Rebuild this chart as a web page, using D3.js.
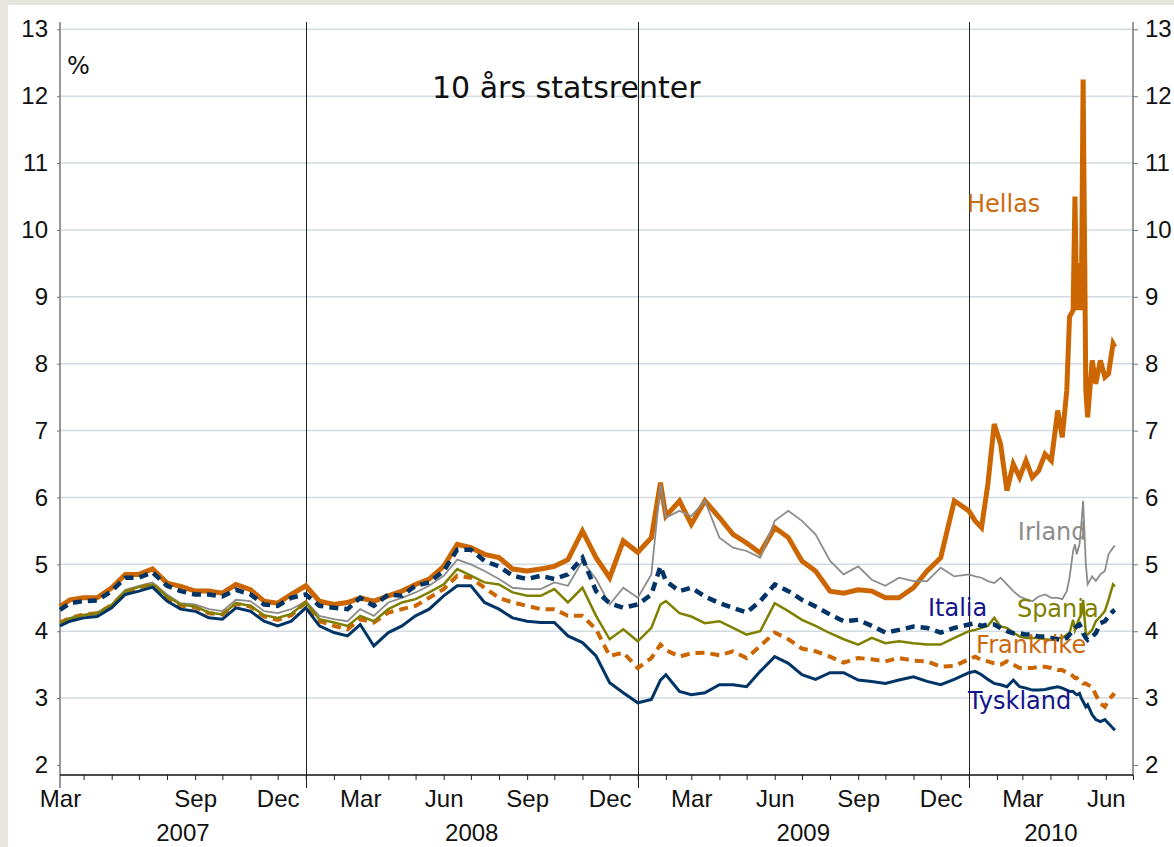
<!DOCTYPE html>
<html>
<head>
<meta charset="utf-8">
<script src="https://cdn.jsdelivr.net/npm/d3@7"></script>
<style>
  html, body { margin: 0; padding: 0; background: #e6e6df; }
  svg { display: block; }
</style>
</head>
<body>
<svg id="chart" width="1174" height="847"></svg>
<script>
// observation dates (semi-monthly to end of 2009, denser in 2010)
var dates = [
  "2007-04-05","2007-04-16","2007-05-01","2007-05-16","2007-06-01","2007-06-16","2007-07-01","2007-07-16","2007-08-01",
  "2007-08-16","2007-09-01","2007-09-16","2007-10-01","2007-10-16","2007-11-01","2007-11-16","2007-12-01","2007-12-16",
  "2008-01-01","2008-01-16","2008-02-01","2008-02-16","2008-03-01","2008-03-16","2008-04-01","2008-04-16","2008-05-01",
  "2008-05-16","2008-06-01","2008-06-16","2008-07-01","2008-07-16","2008-08-01","2008-08-16","2008-09-01","2008-09-16",
  "2008-10-01","2008-10-16","2008-11-01","2008-11-16","2008-12-01","2008-12-16",
  "2009-01-01","2009-01-16","2009-01-26","2009-02-01","2009-02-16","2009-03-01","2009-03-16","2009-04-01","2009-04-16",
  "2009-05-01","2009-05-16","2009-06-01","2009-06-16","2009-07-01","2009-07-16","2009-08-01","2009-08-16","2009-09-01",
  "2009-09-16","2009-10-01","2009-10-16","2009-11-01","2009-11-16","2009-12-01","2009-12-16",
  "2010-01-01","2010-01-08","2010-01-15","2010-01-22","2010-01-29","2010-02-05","2010-02-12","2010-02-19","2010-02-26",
  "2010-03-05","2010-03-12","2010-03-19","2010-03-26","2010-04-02","2010-04-09","2010-04-14","2010-04-19","2010-04-22",
  "2010-04-26","2010-04-28","2010-04-30","2010-05-03","2010-05-05","2010-05-07","2010-05-10","2010-05-12","2010-05-17",
  "2010-05-21","2010-05-26","2010-05-31","2010-06-04","2010-06-09","2010-06-11"
];

var hellas = [
  4.37, 4.47, 4.5, 4.5, 4.65, 4.85, 4.85, 4.93, 4.72, 4.67, 4.6, 4.6, 4.57, 4.7, 4.62, 4.45, 4.42, 4.55,
  4.68, 4.45, 4.4, 4.43, 4.5, 4.45, 4.53, 4.6, 4.7, 4.78, 4.97, 5.3, 5.25, 5.15, 5.1, 4.93, 4.9, 4.93, 4.97, 5.07, 5.5, 5.1, 4.8, 5.35,
  5.18, 5.4, 6.22, 5.72, 5.95, 5.6, 5.95, 5.7, 5.45, 5.32, 5.17, 5.55, 5.4, 5.05, 4.9, 4.6, 4.57, 4.62, 4.6, 4.5, 4.5, 4.65, 4.9, 5.1, 5.95,
  5.8, 5.65, 5.55, 6.2, 7.1, 6.8, 6.1, 6.5, 6.3, 6.55, 6.3, 6.4, 6.65, 6.55, 7.3, 6.9, 7.6, 8.7, 8.8, 10.5, 8.8, 9.5, 8.8, 12.25,
  7.6, 7.2, 8.05, 7.7, 8.05, 7.8, 7.85, 8.3, 8.25
];
var irland = [
  4.13, 4.2, 4.25, 4.28, 4.4, 4.62, 4.68, 4.73, 4.55, 4.42, 4.4, 4.33, 4.3, 4.47, 4.45, 4.3, 4.27, 4.33,
  4.45, 4.23, 4.18, 4.15, 4.33, 4.23, 4.43, 4.5, 4.58, 4.68, 4.83, 5.07, 5.0, 4.9, 4.78, 4.65, 4.63, 4.63, 4.73, 4.68, 5.05, 4.78, 4.4, 4.65,
  4.5, 4.85, 6.2, 5.7, 5.8, 5.72, 5.95, 5.4, 5.25, 5.2, 5.1, 5.65, 5.8, 5.65, 5.45, 5.05, 4.85, 4.97, 4.77, 4.68, 4.8, 4.75, 4.75, 4.95, 4.82,
  4.85, 4.82, 4.8, 4.75, 4.72, 4.8, 4.7, 4.6, 4.52, 4.48, 4.45, 4.52, 4.55, 4.5, 4.5, 4.48, 4.6, 4.8, 5.2, 5.3, 5.15, 5.3, 5.6, 5.95,
  5.0, 4.7, 4.82, 4.75, 4.85, 4.9, 5.15, 5.25, 5.28
];
var italia = [
  4.32, 4.42, 4.45, 4.46, 4.6, 4.8, 4.8, 4.88, 4.68, 4.6, 4.55, 4.55, 4.52, 4.62, 4.55, 4.4, 4.38, 4.5,
  4.55, 4.38, 4.35, 4.33, 4.5, 4.38, 4.55, 4.53, 4.68, 4.73, 4.9, 5.22, 5.22, 5.05, 4.97, 4.83, 4.78, 4.83, 4.78, 4.85, 5.1, 4.6, 4.42, 4.35,
  4.4, 4.55, 4.97, 4.75, 4.6, 4.65, 4.52, 4.42, 4.35, 4.28, 4.45, 4.7, 4.6, 4.47, 4.37, 4.25, 4.15, 4.17, 4.08, 3.98, 4.02, 4.07, 4.05, 3.98, 4.05,
  4.1, 4.12, 4.08, 4.1, 4.1, 4.05, 4.0, 3.97, 3.97, 3.95, 3.95, 3.92, 3.92, 3.9, 3.88, 3.87, 3.9, 3.95, 4.02, 4.05, 4.07, 4.1, 4.05, 3.97,
  3.9, 3.87, 3.92, 3.97, 4.12, 4.15, 4.22, 4.3, 4.32
];
var spania = [
  4.12, 4.19, 4.24, 4.27, 4.39, 4.6, 4.66, 4.7, 4.52, 4.4, 4.37, 4.28, 4.25, 4.42, 4.38, 4.24, 4.2, 4.26,
  4.43, 4.18, 4.13, 4.08, 4.23, 4.15, 4.33, 4.43, 4.48, 4.58, 4.7, 4.93, 4.83, 4.73, 4.7, 4.58, 4.53, 4.53, 4.63, 4.43, 4.65, 4.23, 3.88, 4.03,
  3.85, 4.05, 4.4, 4.45, 4.27, 4.22, 4.12, 4.15, 4.05, 3.95, 4.0, 4.42, 4.3, 4.17, 4.08, 3.97, 3.88, 3.8, 3.9, 3.82, 3.85, 3.82, 3.8, 3.8, 3.9,
  4.0, 4.02, 4.05, 4.08, 4.2, 4.07, 4.05, 3.98, 3.92, 3.9, 3.9, 3.9, 3.88, 3.87, 3.9, 3.9, 3.95, 3.97, 4.17, 4.02, 4.1, 4.2, 4.25, 4.47,
  3.97, 3.95, 4.02, 4.15, 4.22, 4.3, 4.47, 4.7, 4.67
];
var frankrike = [
  4.13, 4.2, 4.25, 4.27, 4.39, 4.59, 4.65, 4.71, 4.5, 4.38, 4.36, 4.27, 4.25, 4.41, 4.37, 4.22, 4.17, 4.24,
  4.43, 4.15, 4.08, 4.03, 4.18, 4.13, 4.28, 4.33, 4.38, 4.5, 4.63, 4.83, 4.8, 4.65, 4.5, 4.43, 4.38, 4.33, 4.33, 4.23, 4.23, 4.03, 3.63, 3.68,
  3.45, 3.6, 3.8, 3.72, 3.62, 3.67, 3.68, 3.64, 3.7, 3.6, 3.78, 3.98, 3.88, 3.74, 3.7, 3.62, 3.53, 3.6, 3.58, 3.55, 3.6, 3.56, 3.55, 3.47, 3.48,
  3.58, 3.62, 3.57, 3.55, 3.52, 3.5, 3.55, 3.5, 3.45, 3.45, 3.45, 3.47, 3.47, 3.45, 3.42, 3.42, 3.38, 3.36, 3.33, 3.3, 3.3, 3.25, 3.25, 3.22,
  3.22, 3.2, 3.17, 3.05, 2.92, 2.87, 2.97, 3.05, 3.03
];
var tyskland = [
  4.08, 4.15, 4.2, 4.22, 4.35, 4.55, 4.6, 4.66, 4.45, 4.33, 4.3, 4.2, 4.18, 4.35, 4.3, 4.15, 4.08, 4.15,
  4.35, 4.08, 3.98, 3.93, 4.1, 3.78, 3.98, 4.08, 4.23, 4.33, 4.53, 4.68, 4.68, 4.43, 4.33, 4.2, 4.15, 4.13, 4.13, 3.93, 3.83, 3.63, 3.23, 3.08,
  2.93, 2.98, 3.27, 3.35, 3.1, 3.05, 3.08, 3.2, 3.2, 3.17, 3.4, 3.62, 3.52, 3.35, 3.28, 3.38, 3.38, 3.27, 3.25, 3.22, 3.27, 3.32, 3.25, 3.2, 3.28,
  3.38, 3.4, 3.35, 3.28, 3.22, 3.2, 3.17, 3.27, 3.17, 3.15, 3.12, 3.12, 3.13, 3.15, 3.17, 3.15, 3.12, 3.1, 3.1, 3.07, 3.05, 3.07, 3.0, 2.95,
  2.87, 2.9, 2.75, 2.68, 2.65, 2.68, 2.62, 2.55, 2.52
];

var yTicks = [2, 3, 4, 5, 6, 7, 8, 9, 10, 11, 12, 13];
var monthTickDates = ["2007-04-05","2007-09-01","2007-12-01","2008-03-01","2008-06-01","2008-09-01","2008-12-01",
                      "2009-03-01","2009-06-01","2009-09-01","2009-12-01","2010-03-01","2010-06-01"];
var monthTickLabels = ["Mar","Sep","Dec","Mar","Jun","Sep","Dec","Mar","Jun","Sep","Dec","Mar","Jun"];
var yearLabels = ["2007", "2008", "2009", "2010"];
var yearBreaks = ["2008-01-01", "2009-01-01", "2010-01-01"];

(function() {
  var parse = d3.timeParse("%Y-%m-%d");
  var W = 1174, H = 847;
  var pLeft = 60, pRight = 1133, pTop = 29.3, pBottom = 765;
  var axisY = 775;

  var svg = d3.select("#chart");

  // white panel
  svg.append("rect").attr("x", 8).attr("y", 5).attr("width", W - 8).attr("height", H - 5).attr("fill", "#ffffff");

  var x = d3.scaleTime()
      .domain([parse("2007-04-05"), parse("2010-07-01")])
      .range([pLeft, pRight]);
  var y = d3.scaleLinear().domain([2, 13]).range([pBottom, pTop]);

  // horizontal grid
  svg.append("g").selectAll("line")
    .data(yTicks.slice(1))
    .enter().append("line")
      .attr("x1", pLeft).attr("x2", pRight)
      .attr("y1", function(d) { return y(d); })
      .attr("y2", function(d) { return y(d); })
      .attr("stroke", "#d2dbe2").attr("stroke-width", 1.5);

  // y axes, both sides
  var yl = svg.append("g").attr("transform", "translate(" + pLeft + ",0)")
    .call(d3.axisLeft(y).tickValues(yTicks).tickSize(3).tickPadding(9));
  var yr = svg.append("g").attr("transform", "translate(" + pRight + ",0)")
    .call(d3.axisRight(y).tickValues(yTicks).tickSize(5).tickPadding(7));
  [yl, yr].forEach(function(g) {
    g.select(".domain").remove();
    g.selectAll(".tick line").attr("stroke", "#777");
    g.selectAll("text").attr("font-family", "'Liberation Sans', Arial, sans-serif")
      .attr("font-size", 24).attr("fill", "#111");
  });
  svg.append("line").attr("x1", pLeft).attr("x2", pLeft).attr("y1", 22).attr("y2", 788)
    .attr("stroke", "#777").attr("stroke-width", 1.5);
  svg.append("line").attr("x1", pRight).attr("x2", pRight).attr("y1", 22).attr("y2", axisY)
    .attr("stroke", "#777").attr("stroke-width", 1.5);

  // year separators
  svg.append("g").selectAll("line")
    .data(yearBreaks)
    .enter().append("line")
      .attr("x1", function(d) { return Math.round(x(parse(d))) + 0.5; })
      .attr("x2", function(d) { return Math.round(x(parse(d))) + 0.5; })
      .attr("y1", 22).attr("y2", 788)
      .attr("stroke", "#222").attr("stroke-width", 1);

  // x axis with monthly ticks
  var xa = svg.append("g").attr("transform", "translate(0," + axisY + ")")
    .call(d3.axisBottom(x).ticks(d3.timeMonth.every(1)).tickSize(5).tickFormat(""));
  xa.select(".domain").remove();
  xa.selectAll(".tick line").attr("stroke", "#222");
  svg.append("line").attr("x1", pLeft).attr("x2", pRight).attr("y1", axisY).attr("y2", axisY)
    .attr("stroke", "#111").attr("stroke-width", 1.5);

  var ml = svg.append("g").attr("transform", "translate(0," + 790 + ")")
    .call(d3.axisBottom(x).tickValues(monthTickDates.map(parse)).tickSize(0).tickPadding(0)
      .tickFormat(function(d, i) { return monthTickLabels[i]; }));
  ml.select(".domain").remove();
  ml.selectAll("text").attr("font-family", "'Liberation Sans', Arial, sans-serif")
    .attr("font-size", 24).attr("fill", "#111");

  // year labels centred under each visible year span
  svg.append("g").selectAll("text")
    .data(yearLabels)
    .enter().append("text")
      .attr("x", function(d) {
        var a = d3.max([x.domain()[0], parse(d + "-01-01")]);
        var b = d3.min([x.domain()[1], parse((+d + 1) + "-01-01")]);
        return (x(a) + x(b)) / 2;
      })
      .attr("y", 841)
      .attr("text-anchor", "middle")
      .attr("font-family", "'Liberation Sans', Arial, sans-serif")
      .attr("font-size", 24).attr("fill", "#111")
      .text(function(d) { return d; });

  // series
  var series = [
    { name: "Hellas",    values: hellas,    color: "#cc6600", width: 5,   dash: null,  label: "#cc6a10", at: ["2009-12-30", 10.27] },
    { name: "Irland",    values: irland,    color: "#8c8c8c", width: 1.8, dash: null,  label: "#8c8c8c", at: ["2010-02-24", 5.36] },
    { name: "Frankrike", values: frankrike, color: "#cc6600", width: 4,   dash: "9,6", label: "#cc6a10", at: ["2010-01-09", 3.67] },
    { name: "Spania",    values: spania,    color: "#808000", width: 2.5, dash: null,  label: "#808000", at: ["2010-02-23", 4.21] },
    { name: "Italia",    values: italia,    color: "#003366", width: 4.5, dash: "9,6", label: "#14148c", at: ["2009-11-17", 4.23] },
    { name: "Tyskland",  values: tyskland,  color: "#003366", width: 3,   dash: null,  label: "#14148c", at: ["2009-12-31", 2.84] }
  ];

  var line = d3.line()
    .x(function(d) { return x(d.date); })
    .y(function(d) { return y(d.v); });

  series.forEach(function(s) {
    var pts = dates.map(function(d, i) { return { date: parse(d), v: s.values[i] }; });
    svg.append("path")
      .datum(pts)
      .attr("d", line)
      .attr("fill", "none")
      .attr("stroke", s.color)
      .attr("stroke-width", s.width)
      .attr("stroke-dasharray", s.dash);
  });

  series.forEach(function(s) {
    svg.append("text")
      .attr("x", x(parse(s.at[0])))
      .attr("y", y(s.at[1]))
      .attr("font-family", "'DejaVu Sans', Verdana, sans-serif")
      .attr("font-size", 24)
      .attr("fill", s.label)
      .text(s.name);
  });

  // titles
  svg.append("text").attr("x", 67).attr("y", 74)
    .attr("font-family", "'DejaVu Sans', Verdana, sans-serif").attr("font-size", 24).attr("fill", "#111")
    .text("%");
  svg.append("text").attr("x", 432).attr("y", 98)
    .attr("font-family", "'DejaVu Sans', Verdana, sans-serif").attr("font-size", 30).attr("fill", "#111")
    .text("10 års statsrenter");
})();
</script>
</body>
</html>
